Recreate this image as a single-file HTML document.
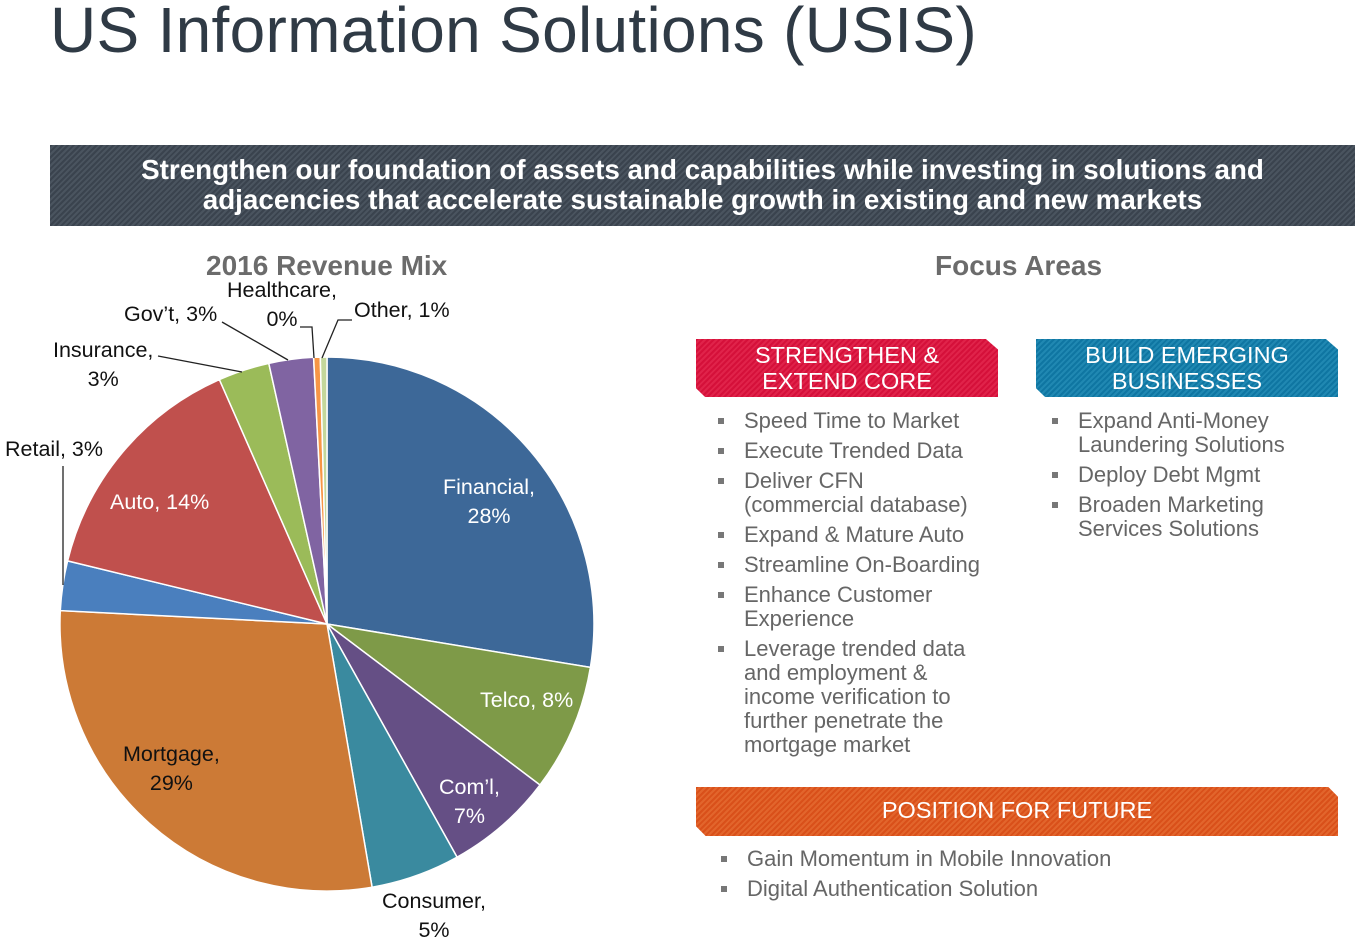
<!DOCTYPE html>
<html><head><meta charset="utf-8"><style>
body{margin:0;width:1358px;height:942px;background:#fff;position:relative;overflow:hidden;font-family:"Liberation Sans",sans-serif}
.a{position:absolute;white-space:nowrap}
.title{left:50px;top:-7px;font-size:64px;color:#2f3a45;letter-spacing:0.3px}
.banner{left:50px;top:145px;width:1305px;height:81px;background:repeating-linear-gradient(135deg,#3a434e 0 2px,#4a545f 2px 4px);color:#fff;font-weight:bold;font-size:27.8px;text-align:center;line-height:30px;padding-top:10px;box-sizing:border-box}
.h{font-weight:bold;font-size:28px;color:#6b6b6b}
.box{position:absolute;color:#fff;font-size:23.5px;text-align:center;line-height:26px;clip-path:polygon(0 0,96% 0,100% 18%,100% 100%,3% 100%,0 85%)}
.red{background:repeating-linear-gradient(135deg,#d5103a 0 2px,#e0234a 2px 4px)}
.blue{background:repeating-linear-gradient(135deg,#0f76a2 0 2px,#2088b2 2px 4px)}
.org{background:repeating-linear-gradient(135deg,#d9501a 0 2px,#e2652c 2px 4px)}
ul{position:absolute;margin:0;padding:0;list-style:none;color:#666;font-size:22px;line-height:24px}
li{position:relative;padding-left:48px;margin-bottom:6px}
li:before{content:"";position:absolute;left:22px;top:9px;width:6px;height:6px;background:#777}
.l{position:absolute;font-size:21.5px;color:#111;white-space:nowrap;text-align:center;line-height:29px}
.w{color:#fff}
</style></head><body>
<div class="a title">US Information Solutions (USIS)</div>
<div class="a banner">Strengthen our foundation of assets and capabilities while investing in solutions and<br>adjacencies that accelerate sustainable growth in existing and new markets</div>
<div class="a h" style="left:206px;top:250px">2016 Revenue Mix</div>
<div class="a h" style="left:935px;top:250px">Focus Areas</div>
<svg id="pie" width="1358" height="942" style="position:absolute;left:0;top:0">
<g stroke="#222" stroke-width="1.3" fill="none">
<polyline points="63,466 63,585"/>
<polyline points="158,356 242,372"/>
<polyline points="222,322 288,360"/>
<polyline points="300,327 312,327 314,358"/>
<polyline points="352,320 338,320 322,358"/>
</g>
</svg>
<div class="box red" style="left:696px;top:339px;width:302px;height:58px;padding-top:3px;box-sizing:border-box">STRENGTHEN &amp;<br>EXTEND CORE</div>
<div class="box blue" style="left:1036px;top:339px;width:302px;height:58px;padding-top:3px;box-sizing:border-box">BUILD EMERGING<br>BUSINESSES</div>
<div class="box org" style="left:696px;top:787px;width:642px;height:49px;line-height:47px;clip-path:polygon(0 0,98.5% 0,100% 20%,100% 100%,1.5% 100%,0 80%)">POSITION FOR FUTURE</div>
<ul style="left:696px;top:409px;width:320px">
<li>Speed Time to Market</li><li>Execute Trended Data</li><li>Deliver CFN<br>(commercial database)</li><li>Expand &amp; Mature Auto</li><li>Streamline On-Boarding</li><li>Enhance Customer<br>Experience</li><li>Leverage trended data<br>and employment &amp;<br>income verification to<br>further penetrate the<br>mortgage market</li>
</ul>
<ul style="left:1030px;top:409px;width:320px">
<li>Expand Anti-Money<br>Laundering Solutions</li><li>Deploy Debt Mgmt</li><li>Broaden Marketing<br>Services Solutions</li>
</ul>
<ul style="left:699px;top:847px;width:640px">
<li>Gain Momentum in Mobile Innovation</li><li>Digital Authentication Solution</li>
</ul>
<div class="l w" style="left:443px;top:473px">Financial,<br>28%</div>
<div class="l w" style="left:480px;top:686px">Telco, 8%</div>
<div class="l w" style="left:439px;top:773px">Com’l,<br>7%</div>
<div class="l" style="left:382px;top:887px">Consumer,<br>5%</div>
<div class="l" style="left:123px;top:740px">Mortgage,<br>29%</div>
<div class="l w" style="left:110px;top:488px">Auto, 14%</div>
<div class="l" style="left:5px;top:435px">Retail, 3%</div>
<div class="l" style="left:53px;top:336px">Insurance,<br>3%</div>
<div class="l" style="left:124px;top:300px">Gov’t, 3%</div>
<div class="l" style="left:227px;top:276px">Healthcare,<br>0%</div>
<div class="l" style="left:354px;top:296px">Other, 1%</div>
<script>
var cx=327,cy=624,r=267;
var s=[[0.276,"#3d6898"],[0.353,"#7e9a48"],[0.419,"#654f85"],[0.473,"#3a8a9f"],[0.758,"#cc7a36"],[0.788,"#4a7fbe"],[0.934,"#c0504d"],[0.965,"#9bbb59"],[0.992,"#8064a2"],[0.996,"#f79646"],[1,"#c4d79b"]];
var p=0,h="";
function pt(f){var a=f*2*Math.PI;return (cx+r*Math.sin(a)).toFixed(1)+","+(cy-r*Math.cos(a)).toFixed(1);}
s.forEach(function(x){var e=x[0];h+='<path d="M'+cx+','+cy+' L'+pt(p)+' A'+r+','+r+' 0 '+((e-p)>0.5?1:0)+' 1 '+pt(e)+' Z" fill="'+x[1]+'" stroke="#fff" stroke-width="1.5"/>';p=e;});
var svg=document.getElementById("pie");svg.innerHTML=h+svg.innerHTML;
</script>
</body></html>
